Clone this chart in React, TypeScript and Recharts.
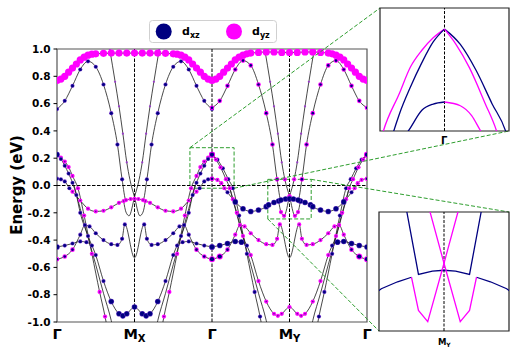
import React from 'react';
import { ComposedChart, Line, XAxis, YAxis, ReferenceLine, ReferenceArea } from 'recharts';

type Pt = [number, number, string?];
type Band = { orb: string; pts: Pt[] };

const FONT = '"DejaVu Sans", sans-serif';
const NAVY = '#000080';
const MAGENTA = '#ff00ff';
const GREEN = '#2e9e2e';

// high-symmetry path
const K_TICKS = [0, 1, 2, 3, 4];
const K_LABELS: [string, string][] = [['Γ', ''], ['M', 'X'], ['Γ', ''], ['M', 'Y'], ['Γ', '']];
const E_TICKS = [-1, -0.8, -0.6, -0.4, -0.2, 0, 0.2, 0.4, 0.6, 0.8, 1];

// orbital character codes: x = dxz, y = dyz, p = mixed, capitals = strong, t = weak, . = none
const TOP: Band = { orb: 'Y', pts: [
  [0, 0.77], [0.05, 0.78], [0.1, 0.8], [0.15, 0.83], [0.2, 0.86], [0.25, 0.89], [0.3, 0.92], [0.35, 0.94], [0.4, 0.955], [0.45, 0.962],
  [0.5, 0.965], [0.6, 0.968], [0.7, 0.97], [0.8, 0.97], [0.9, 0.97], [1, 0.97], [1.1, 0.97], [1.2, 0.97], [1.3, 0.97], [1.4, 0.968],
  [1.5, 0.965], [1.55, 0.962], [1.6, 0.955], [1.65, 0.94], [1.7, 0.92], [1.75, 0.89], [1.8, 0.86], [1.85, 0.83], [1.9, 0.8], [1.95, 0.78],
  [2, 0.77], [2.05, 0.78], [2.1, 0.8], [2.15, 0.83], [2.2, 0.86], [2.25, 0.89], [2.3, 0.92], [2.35, 0.94], [2.4, 0.955], [2.45, 0.965],
  [2.5, 0.97], [2.6, 0.975], [2.7, 0.978], [2.8, 0.978], [2.9, 0.975], [3, 0.975], [3.1, 0.975], [3.2, 0.978], [3.3, 0.978], [3.4, 0.975],
  [3.5, 0.97], [3.55, 0.965], [3.6, 0.955], [3.65, 0.94], [3.7, 0.92], [3.75, 0.89], [3.8, 0.86], [3.85, 0.83], [3.9, 0.8], [3.95, 0.78], [4, 0.77],
] };

// Γ -> M_X -> Γ
const B_MX: Band = { orb: 'x', pts: [
  [0, 0.56], [0.1, 0.62], [0.2, 0.73], [0.3, 0.85], [0.4, 0.91], [0.5, 0.87], [0.6, 0.74], [0.7, 0.53], [0.78, 0.3], [0.84, 0.045],
  [0.89, -0.107, 'y'], [0.95, -0.099, 'y'], [1, -0.097, 'y'], [1.05, -0.099, 'y'], [1.11, -0.107, 'y'],
  [1.16, 0.045], [1.22, 0.3], [1.3, 0.53], [1.4, 0.74], [1.5, 0.87], [1.6, 0.91], [1.7, 0.85], [1.8, 0.73], [1.9, 0.62], [2, 0.56],
] };
const T1_MX: Band = { orb: 't', pts: [[0.68, 1], [0.75, 0.76], [0.8, 0.58], [0.85, 0.38], [0.9, 0.17], [0.94, 0.045, '.'], [1, -0.085, '.'], [1.07, -0.222, '.'], [1.11, -0.195, '.'], [1.14, -0.114, '.']] };
const T2_MX: Band = { orb: 't', pts: [[0.86, -0.114, '.'], [0.89, -0.195, '.'], [0.93, -0.222, '.'], [1, -0.085, '.'], [1.06, 0.045, '.'], [1.1, 0.17], [1.15, 0.38], [1.2, 0.58], [1.25, 0.76], [1.32, 1]] };
const D1_MX: Band = { orb: 'y', pts: [[0, 0.05, 'x'], [0.05, 0.045, 'x'], [0.1, 0.03, 'x'], [0.16, -0.02, 'x'], [0.2, -0.045], [0.3, -0.11], [0.4, -0.17], [0.5, -0.19], [0.6, -0.185], [0.7, -0.16], [0.8, -0.127], [0.86, -0.114]] };
const D2_MX: Band = { orb: 'y', pts: [[1.14, -0.114], [1.2, -0.127], [1.3, -0.16], [1.4, -0.185], [1.5, -0.19], [1.6, -0.17], [1.7, -0.11], [1.8, -0.045], [1.84, -0.02, 'x'], [1.9, 0.03, 'x'], [1.95, 0.045, 'x'], [2, 0.05, 'x']] };
const H_MX: Band = { orb: 'x', pts: [
  [0, -0.54, 'p'], [0.1, -0.52, 'p'], [0.2, -0.47, 'p'], [0.3, -0.36], [0.36, -0.29], [0.42, -0.3], [0.5, -0.35], [0.6, -0.4], [0.7, -0.43], [0.78, -0.435], [0.84, -0.39], [0.875, -0.285],
  [1, -0.53, '.'],
  [1.125, -0.285], [1.16, -0.39], [1.22, -0.435], [1.3, -0.43], [1.4, -0.4], [1.5, -0.35], [1.58, -0.3], [1.64, -0.29], [1.7, -0.36], [1.8, -0.47, 'p'], [1.9, -0.52, 'p'], [2, -0.54, 'p'],
] };
const F1_MX: Band = { orb: 'x', pts: [[0, -0.45, 'X'], [0.1, -0.44], [0.2, -0.425], [0.3, -0.41], [0.38, -0.415], [0.45, -0.44]] };
const F2_MX: Band = { orb: 'x', pts: [[1.55, -0.44], [1.62, -0.415], [1.7, -0.41], [1.8, -0.425], [1.9, -0.44], [2, -0.45, 'X']] };
const L1A_MX: Band = { orb: 'y', pts: [[0, 0.226, 'p'], [0.05, 0.205], [0.1, 0.175], [0.15, 0.135], [0.2, 0.07], [0.27, -0.02], [0.35, -0.22], [0.45, -0.5], [0.55, -0.78], [0.62, -0.96], [0.65, -1.05]] };
const L1B_MX: Band = { orb: 'y', pts: [[1.35, -1.05], [1.38, -0.96], [1.45, -0.78], [1.55, -0.5], [1.65, -0.22], [1.73, -0.02], [1.8, 0.07], [1.85, 0.135], [1.9, 0.175], [1.95, 0.205], [2, 0.226, 'p']] };
const L2_MX: Band = { orb: 'x', pts: [
  [0, 0.226, 'X'], [0.05, 0.195], [0.1, 0.145], [0.15, 0.087], [0.2, 0.02], [0.25, -0.07], [0.3, -0.2], [0.4, -0.37], [0.5, -0.51], [0.6, -0.7],
  [0.7, -0.85, 'X'], [0.8, -0.94, 'X'], [0.85, -0.955, 'X'], [0.9, -0.94, 'X'], [1, -0.89, 'X'], [1.1, -0.94, 'X'], [1.15, -0.955, 'X'], [1.2, -0.94, 'X'], [1.3, -0.85, 'X'],
  [1.4, -0.7], [1.5, -0.51], [1.6, -0.37], [1.7, -0.2], [1.75, -0.07], [1.8, 0.02], [1.85, 0.087], [1.9, 0.145], [1.95, 0.195], [2, 0.226, 'X'],
] };
const L3A_MX: Band = { orb: '.', pts: [[0.22, 0], [0.3, -0.17], [0.4, -0.38], [0.5, -0.58], [0.6, -0.79], [0.7, -0.99], [0.72, -1.04]] };
const L3B_MX: Band = { orb: '.', pts: [[1.28, -1.04], [1.3, -0.99], [1.4, -0.79], [1.5, -0.58], [1.6, -0.38], [1.7, -0.17], [1.78, 0]] };

// Γ -> M_Y -> Γ
const B_MY: Band = { orb: 'p', pts: [
  [2, 0.57], [2.1, 0.62], [2.2, 0.73], [2.3, 0.85], [2.4, 0.915], [2.5, 0.88], [2.6, 0.74], [2.7, 0.53], [2.78, 0.3], [2.84, 0.045],
  [2.89, -0.107, 'X'], [2.95, -0.099, 'X'], [3, -0.097, 'X'], [3.05, -0.099, 'X'], [3.11, -0.107, 'X'],
  [3.16, 0.045], [3.22, 0.3], [3.3, 0.53], [3.4, 0.74], [3.5, 0.88], [3.6, 0.915], [3.7, 0.85], [3.8, 0.73], [3.9, 0.62], [4, 0.57],
] };
const T1_MY: Band = { orb: 't', pts: [[2.68, 1], [2.75, 0.76], [2.8, 0.58], [2.85, 0.38], [2.9, 0.17], [2.94, 0.045, 'y'], [3, -0.08, 'y'], [3.07, -0.222, 'y'], [3.11, -0.195, 'y'], [3.14, -0.114, 'y']] };
const T2_MY: Band = { orb: 't', pts: [[2.86, -0.114, 'y'], [2.89, -0.195, 'y'], [2.93, -0.222, 'y'], [3, -0.08, 'y'], [3.06, 0.045, 'y'], [3.1, 0.17], [3.15, 0.38], [3.2, 0.58], [3.25, 0.76], [3.32, 1]] };
const D1_MY: Band = { orb: 'X', pts: [[2, 0.05, 'p'], [2.07, 0.041, 'y'], [2.12, 0.017, 'y'], [2.16, -0.02, 'y'], [2.2, -0.05, 'x'], [2.3, -0.12], [2.4, -0.17], [2.5, -0.19], [2.6, -0.18], [2.7, -0.155], [2.73, -0.142], [2.8, -0.125], [2.86, -0.114]] };
const D2_MY: Band = { orb: 'X', pts: [[3.14, -0.114], [3.2, -0.125], [3.27, -0.142], [3.3, -0.155], [3.4, -0.18], [3.5, -0.19], [3.6, -0.17], [3.7, -0.12], [3.8, -0.05, 'x'], [3.84, -0.02, 'y'], [3.88, 0.017, 'y'], [3.93, 0.041, 'y'], [4, 0.05, 'p']] };
const H_MY: Band = { orb: 'y', pts: [
  [2, -0.54, 'P'], [2.1, -0.52, 'P'], [2.2, -0.47, 'p'], [2.3, -0.36], [2.36, -0.29], [2.42, -0.3], [2.5, -0.35], [2.6, -0.4], [2.7, -0.43], [2.78, -0.435], [2.84, -0.39], [2.875, -0.285],
  [3, -0.53, '.'],
  [3.125, -0.285], [3.16, -0.39], [3.22, -0.435], [3.3, -0.43], [3.4, -0.4], [3.5, -0.35], [3.58, -0.3], [3.64, -0.29], [3.7, -0.36], [3.8, -0.47, 'p'], [3.9, -0.52, 'P'], [4, -0.54, 'P'],
] };
const F1_MY: Band = { orb: 'X', pts: [[2, -0.45], [2.1, -0.44], [2.2, -0.425], [2.3, -0.41], [2.38, -0.415], [2.45, -0.44, 'x']] };
const F2_MY: Band = { orb: 'X', pts: [[3.55, -0.44, 'x'], [3.62, -0.415], [3.7, -0.41], [3.8, -0.425], [3.9, -0.44], [4, -0.45]] };
const L1A_MY: Band = { orb: 'x', pts: [[2, 0.226, 'P'], [2.07, 0.189], [2.14, 0.126], [2.21, 0.046], [2.27, -0.02], [2.35, -0.22], [2.45, -0.5], [2.55, -0.78], [2.62, -0.96], [2.65, -1.05]] };
const L1B_MY: Band = { orb: 'x', pts: [[3.35, -1.05], [3.38, -0.96], [3.45, -0.78], [3.55, -0.5], [3.65, -0.22], [3.73, -0.02], [3.79, 0.046], [3.86, 0.126], [3.93, 0.189], [4, 0.226, 'P']] };
const L2_MY: Band = { orb: 'y', pts: [
  [2, 0.226, 'P'], [2.05, 0.19], [2.11, 0.133], [2.18, 0.046], [2.23, -0.02], [2.27, -0.1], [2.32, -0.2], [2.4, -0.37], [2.5, -0.51], [2.6, -0.7],
  [2.7, -0.85], [2.8, -0.94], [2.85, -0.955], [2.9, -0.94], [3, -0.89], [3.1, -0.94], [3.15, -0.955], [3.2, -0.94], [3.3, -0.85],
  [3.4, -0.7], [3.5, -0.51], [3.6, -0.37], [3.68, -0.2], [3.73, -0.1], [3.77, -0.02], [3.82, 0.046], [3.89, 0.133], [3.95, 0.19], [4, 0.226, 'P'],
] };
const L3A_MY: Band = { orb: '.', pts: [[2.22, 0], [2.3, -0.17], [2.4, -0.38], [2.5, -0.58], [2.6, -0.79], [2.7, -0.99], [2.72, -1.04]] };
const L3B_MY: Band = { orb: '.', pts: [[3.28, -1.04], [3.3, -0.99], [3.4, -0.79], [3.5, -0.58], [3.6, -0.38], [3.7, -0.17], [3.78, 0]] };

const BANDS: Band[] = [
  L3A_MX, L3B_MX, L3A_MY, L3B_MY, T1_MX, T2_MX, T1_MY, T2_MY,
  H_MX, H_MY, F1_MX, F2_MX, F1_MY, F2_MY, L1A_MX, L1B_MX, L1A_MY, L1B_MY, L2_MX, L2_MY,
  D1_MX, D2_MX, D1_MY, D2_MY, B_MX, B_MY, TOP,
];

// zoom windows
const ZOOM_G = { k1: 1.715, k2: 2.285, e1: -0.02, e2: 0.277 };
const ZOOM_MY = { k1: 2.72, k2: 3.28, e1: -0.245, e2: 0.045 };

const INSET_G_LINES: [Band, string][] = [[L1B_MX, MAGENTA], [L2_MX, NAVY], [D2_MX, NAVY], [L1A_MY, NAVY], [L2_MY, MAGENTA], [D1_MY, MAGENTA]];
const INSET_MY_LINES: [Band, string][] = [[B_MY, NAVY], [D1_MY, NAVY], [D2_MY, NAVY], [T1_MY, MAGENTA], [T2_MY, MAGENTA]];

const DOT_STYLE: Record<string, [string, number][]> = {
  x: [['#7a3cd0', 2.1], [NAVY, 1.5]],
  X: [['#5a2cc0', 2.8], [NAVY, 2.3]],
  y: [[MAGENTA, 2.1], ['#5a1a9a', 0.8]],
  Y: [[MAGENTA, 3.6]],
  p: [[MAGENTA, 2.3], [NAVY, 1.3]],
  P: [[MAGENTA, 3], [NAVY, 2.1]],
  t: [['#9a3acb', 1.1]],
};

// layout
const W = 519;
const H = 354;
const PLOT = { left: 57, top: 49, width: 310, height: 273 };
const INSET_G = { left: 380, top: 8, w: 129, h: 123 };
const INSET_MY = { left: 379, top: 212, w: 130, h: 119 };

const px = (k: number) => PLOT.left + (k / 4) * PLOT.width;
const py = (e: number) => PLOT.top + ((1 - e) / 2) * PLOT.height;

const rows = (b: Band) => b.pts.map(([k, e, c]) => ({ k, e, c: c ?? b.orb }));

const orbDot = (props: any) => {
  const { cx, cy, payload, index } = props;
  const spec = DOT_STYLE[payload?.c] ?? [];
  return (
    <g key={`o-${index}-${cx}`}>
      {cx != null && cy != null && spec.map(([fill, r], i) => <circle key={i} cx={cx} cy={cy} r={r} fill={fill} />)}
    </g>
  );
};

const XTick = (props: any) => {
  const { x, y, payload } = props;
  const i = K_TICKS.indexOf(payload.value);
  const [main, sub] = K_LABELS[i] ?? ['', ''];
  return (
    <text x={x} y={y + 17} textAnchor="middle" fontFamily={FONT} fontWeight="bold" fontSize={14.5} fill="#000">
      {main}
      {sub ? <tspan fontSize={10} dy={3}>{sub}</tspan> : null}
    </text>
  );
};

const Inset = ({ box, pos, lines, mark, curve }: any) => (
  <div style={{ position: 'absolute', left: pos.left - 1, top: pos.top - 1 }}>
    <ComposedChart width={pos.w + 2} height={pos.h + 2} margin={{ top: 1, right: 1, bottom: 1, left: 1 }}>
      <XAxis dataKey="k" type="number" domain={[box.k1, box.k2]} hide allowDataOverflow />
      <YAxis dataKey="e" type="number" domain={[box.e1, box.e2]} hide allowDataOverflow />
      <ReferenceLine x={mark} stroke="#000" strokeWidth={1} strokeDasharray="3 1.5" />
      {lines.map(([b, color]: [Band, string], i: number) => (
        <Line key={i} data={rows(b)} dataKey="e" type={curve} stroke={color} strokeWidth={1.3} dot={false} activeDot={false} isAnimationActive={false} />
      ))}
      <ReferenceArea x1={box.k1} x2={box.k2} y1={box.e1} y2={box.e2} fill="none" stroke="#222" strokeWidth={1.2} />
    </ComposedChart>
  </div>
);

export default function App() {
  const conn = [
    [px(ZOOM_G.k1), py(ZOOM_G.e2), INSET_G.left, INSET_G.top],
    [px(ZOOM_G.k2), py(ZOOM_G.e1), INSET_G.left + INSET_G.w, INSET_G.top + INSET_G.h],
    [px(ZOOM_MY.k2), py(ZOOM_MY.e2), INSET_MY.left + INSET_MY.w, INSET_MY.top],
    [px(ZOOM_MY.k1), py(ZOOM_MY.e1), INSET_MY.left, INSET_MY.top + INSET_MY.h],
  ];
  return (
    <div style={{ position: 'absolute', left: 0, top: 0, width: W, height: H, background: '#fff', fontFamily: FONT }}>
      <ComposedChart width={W} height={H} margin={{ top: PLOT.top, right: W - PLOT.left - PLOT.width, bottom: 0, left: 0 }}>
        <XAxis dataKey="k" type="number" domain={[0, 4]} ticks={K_TICKS} interval={0} tick={<XTick />} tickLine={false} axisLine={false} tickSize={0} tickMargin={0} height={H - PLOT.top - PLOT.height} allowDataOverflow />
        <YAxis
          dataKey="e" type="number" domain={[-1, 1]} ticks={E_TICKS} interval={0} width={PLOT.left} allowDataOverflow
          tickFormatter={(v: number) => v.toFixed(1)} tickSize={3.5} tickMargin={3} axisLine={false}
          tickLine={{ stroke: '#000' }} tick={{ fontSize: 10.5, fontWeight: 'bold', fill: '#000', fontFamily: FONT }}
        />
        {K_TICKS.slice(1, -1).map((k) => (
          <ReferenceLine key={k} x={k} stroke="#000" strokeWidth={1} strokeDasharray="3.5 1.5" />
        ))}
        <ReferenceLine y={0} stroke="#000" strokeWidth={1} strokeDasharray="3.5 1.5" />
        {BANDS.map((b, i) => (
          <Line key={`d${i}`} data={rows(b)} dataKey="e" stroke="none" dot={orbDot} activeDot={false} isAnimationActive={false} />
        ))}
        {BANDS.map((b, i) => (
          <Line key={`l${i}`} data={rows(b)} dataKey="e" type="monotone" stroke="#1a1a1a" strokeWidth={0.8} dot={false} activeDot={false} isAnimationActive={false} />
        ))}
        <ReferenceArea x1={ZOOM_G.k1} x2={ZOOM_G.k2} y1={ZOOM_G.e1} y2={ZOOM_G.e2} fill="none" stroke={GREEN} strokeWidth={1} strokeDasharray="4 2" />
        <ReferenceArea x1={ZOOM_MY.k1} x2={ZOOM_MY.k2} y1={ZOOM_MY.e1} y2={ZOOM_MY.e2} fill="none" stroke={GREEN} strokeWidth={1} strokeDasharray="4 2" />
        <ReferenceArea x1={0} x2={4} y1={-1} y2={1} fill="none" stroke="#555" strokeWidth={1.2} />
      </ComposedChart>

      <svg width={W} height={H} style={{ position: 'absolute', left: 0, top: 0, pointerEvents: 'none' }}>
        {conn.map(([x1, y1, x2, y2], i) => (
          <line key={i} x1={x1} y1={y1} x2={x2} y2={y2} stroke={GREEN} strokeWidth={1} strokeDasharray="4 2" />
        ))}
        <text transform="translate(22,185) rotate(-90)" textAnchor="middle" fontFamily={FONT} fontWeight="bold" fontSize={15} fill="#000">Energy (eV)</text>
        <rect x={149.5} y={20.5} width={127} height={22} rx={3} fill="#fff" fillOpacity={0.85} stroke="#d0d0d0" />
        <circle cx={163.7} cy={31.5} r={8} fill={NAVY} />
        <text x={182} y={35} fontFamily={FONT} fontWeight="bold" fontSize={11} fill="#000">d<tspan fontSize={8} dy={2.5}>xz</tspan></text>
        <circle cx={234} cy={31.5} r={8} fill={MAGENTA} />
        <text x={252} y={35} fontFamily={FONT} fontWeight="bold" fontSize={11} fill="#000">d<tspan fontSize={8} dy={2.5}>yz</tspan></text>
        <text x={444.3} y={144} textAnchor="middle" fontFamily={FONT} fontWeight="bold" fontSize={10} fill="#000">Γ</text>
        <text x={444.3} y={345} textAnchor="middle" fontFamily={FONT} fontWeight="bold" fontSize={8.5} fill="#000">M<tspan fontSize={6} dy={2}>Y</tspan></text>
      </svg>

      <Inset box={ZOOM_G} pos={INSET_G} lines={INSET_G_LINES} mark={2} curve="monotone" />
      <Inset box={ZOOM_MY} pos={INSET_MY} lines={INSET_MY_LINES} mark={3} curve="linear" />
    </div>
  );
}
